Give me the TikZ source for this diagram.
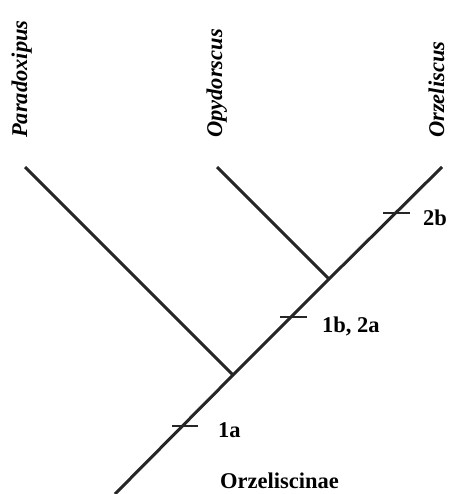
\documentclass[tikz,border=0pt]{standalone}
\usepackage{fontspec}
\setmainfont{Liberation Serif}
\tikzset{
  branch/.style={line width=3pt, black!85},
  tickmark/.style={line width=2.4pt, black!85},
  taxon/.style={font=\fontsize{22.5}{26}\selectfont\bfseries\itshape, rotate=90, anchor=base west, inner sep=0pt},
  charlab/.style={font=\fontsize{22.5}{26}\selectfont\bfseries, anchor=base west, inner sep=0pt},
}
\begin{document}
\begin{tikzpicture}[x=1pt,y=-1pt]
\useasboundingbox (0,0) rectangle (450,494);
% tree points
\coordinate (root) at (115,494);
\coordinate (n1) at (233,375);
\coordinate (n2) at (329,279);
\coordinate (tP) at (25,167);
\coordinate (tO) at (217,167);
\coordinate (tZ) at (442,167);
% branches
\draw[branch] (root) -- (n1) -- (n2) -- (tZ);
\draw[branch] (n1) -- (tP);
\draw[branch] (n2) -- (tO);
% ticks
\coordinate (k1l) at (172,426); \coordinate (k1r) at (198,426);
\coordinate (k2l) at (280,317); \coordinate (k2r) at (307,317);
\coordinate (k3l) at (383,213); \coordinate (k3r) at (410,213);
\draw[tickmark] (k1l) -- (k1r);
\draw[tickmark] (k2l) -- (k2r);
\draw[tickmark] (k3l) -- (k3r);
% taxon labels
\node[taxon] (Lp) at (27,138) {Paradoxipus};
\node[taxon] (Lo) at (222,138) {Opydorscus};
\node[taxon] (Lz) at (444,138) {Orzeliscus};
% character labels
\node[charlab] (c1a) at (218,437) {1a};
\node[charlab] (c1b) at (322,332) {1b, 2a};
\node[charlab] (c2b) at (423,225) {2b};
\node[charlab] (cl) at (220,488) {Orzeliscinae};
\end{tikzpicture}
\end{document}
